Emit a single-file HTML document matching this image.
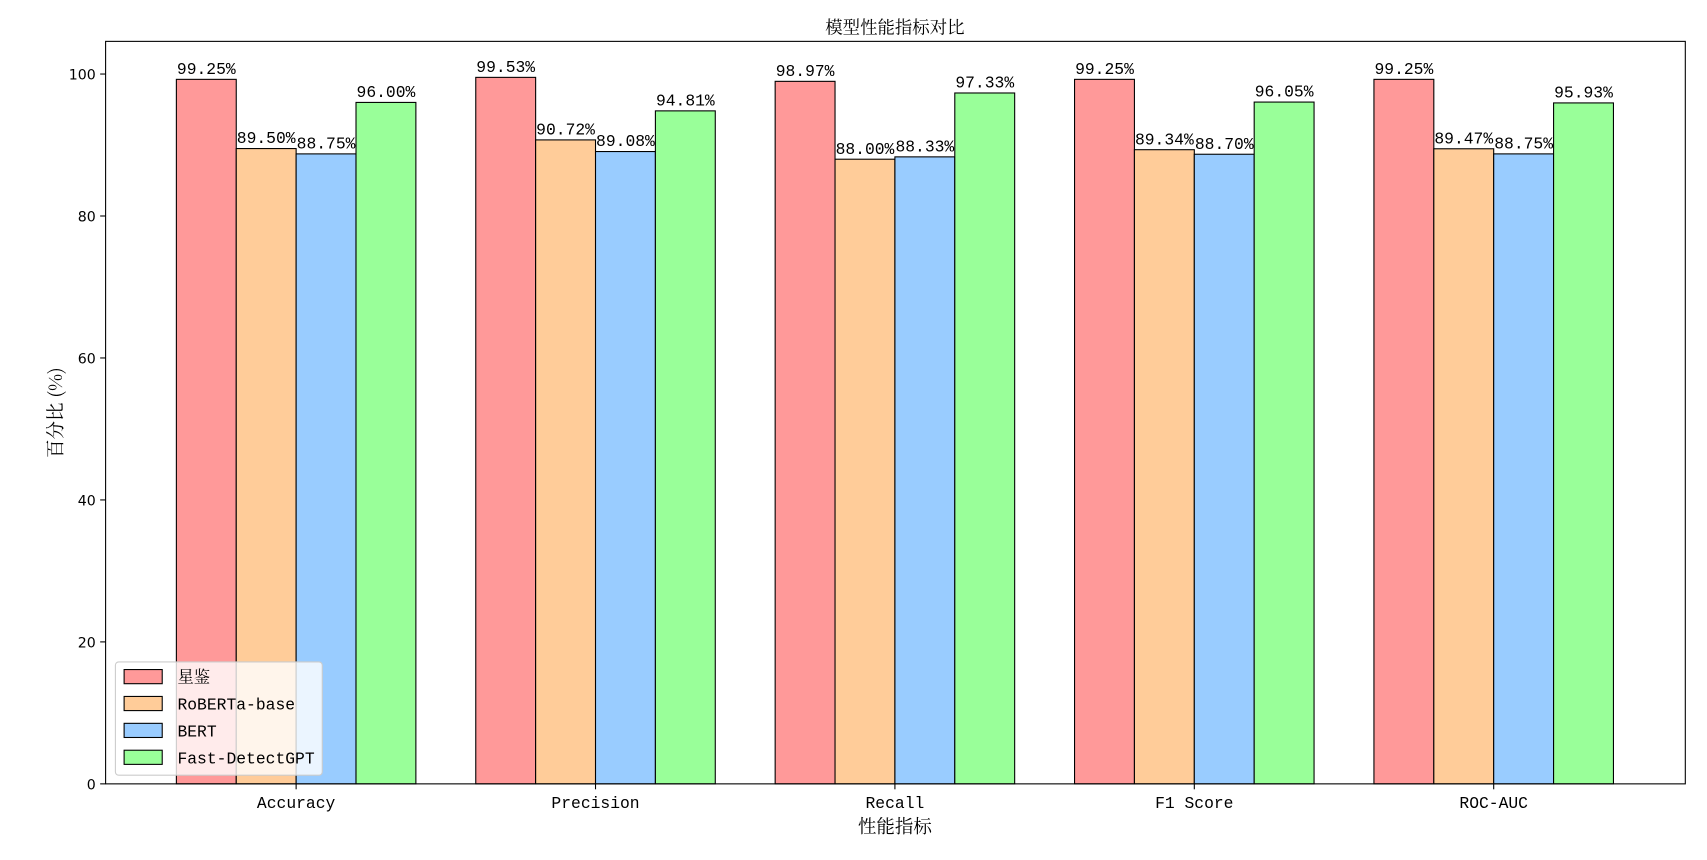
<!DOCTYPE html>
<html><head><meta charset="utf-8">
<style>
body{margin:0;background:#fff;overflow:hidden;}
svg text{font-family:"Liberation Mono","Noto Serif CJK SC",monospace;}
.tick{font-family:"DejaVu Sans",sans-serif !important;font-size:13px;}
</style></head>
<body>
<svg id="chart" width="1707" height="855" xmlns="http://www.w3.org/2000/svg">
<rect width="1707" height="855" fill="#fff"/>
<g transform="scale(1.0887)">
<text x="822" y="31" text-anchor="middle" font-size="16" style="font-family:'Noto Serif CJK SC',serif">模型性能指标对比</text>
<g id="yaxis"></g>
<g id="bars"></g>
<g id="labels"></g>
<rect x="97" y="38" width="1451" height="682" fill="none" stroke="#000" stroke-width="1"/>
<g id="xaxis"></g>
<text x="822" y="765" text-anchor="middle" font-size="17" style="font-family:'Noto Serif CJK SC',serif">性能指标</text>
<text transform="translate(57,379) rotate(-90)" text-anchor="middle" font-size="17" style="font-family:'Noto Serif CJK SC',serif">百分比 (%)</text>
<g id="legend"></g>
</g>
</svg>
<script>
const categories=["Accuracy","Precision","Recall","F1 Score","ROC-AUC"];
const seriesNames=["星鉴","RoBERTa-base","BERT","Fast-DetectGPT"];
const s0=[99.25,99.53,98.97,99.25,99.25];
const s1=[89.50,90.72,88.00,89.34,89.47];
const s2=[88.75,89.08,88.33,88.70,88.75];
const s3=[96.00,94.81,97.33,96.05,95.93];
const yTicks=[0,20,40,60,80,100];
const series=[s0,s1,s2,s3];
const colors=["#ff9999","#ffcc99","#99ccff","#99ff99"];
const NS="http://www.w3.org/2000/svg";
const y0=720,pxPerUnit=6.52,gx0=272,gStep=275,bw=55;
const ys=v=>y0-v*pxPerUnit;
const xs=(i,j)=>gx0+i*gStep+(j-2)*bw;
function mk(tag,attrs,parent){const e=document.createElementNS(NS,tag);for(const k in attrs)e.setAttribute(k,attrs[k]);document.getElementById(parent).appendChild(e);return e;}
yTicks.forEach(t=>{
  const l=mk('line',{x1:92,x2:97,y1:ys(t),y2:ys(t),stroke:'#000'},'yaxis');
  
  
  const tx=mk('text',{x:88,y:ys(t)+5,'text-anchor':'end',class:'tick'},'yaxis');
  tx.textContent=t;
  
  
});
categories.forEach((c,i)=>{
  const cx=gx0+i*gStep;
  const l=mk('line',{x1:cx,x2:cx,y1:720,y2:725,stroke:'#000'},'xaxis');
  
  
  const tx=mk('text',{x:cx,y:742,'text-anchor':'middle','font-size':15},'xaxis');
  tx.textContent=c;
  
  
  series.forEach((s,j)=>{
    const x=xs(i,j),y=ys(s[i]);
    const r=mk('rect',{x:x,y:y,width:bw,height:y0-y,fill:colors[j],stroke:'#000','stroke-width':1},'bars');
    
    
    const t=mk('text',{x:x+bw/2,y:y-5,'text-anchor':'middle','font-size':15},'labels');
    t.textContent=s[i].toFixed(2)+'%';
    
    
  });
});
const lg=mk('rect',{x:106,y:608,width:190,height:104,rx:3,fill:'#fff','fill-opacity':0.8,stroke:'#ccc'},'legend');


seriesNames.forEach((n,j)=>{
  const y=615+j*24.7;
  const r=mk('rect',{x:114,y:y,width:35,height:13,fill:colors[j],stroke:'#000'},'legend');
  
  
  const t=mk('text',{x:163,y:y+12,'font-size':15},'legend');
  t.textContent=n;
  
  
});
</script>
</body></html>
